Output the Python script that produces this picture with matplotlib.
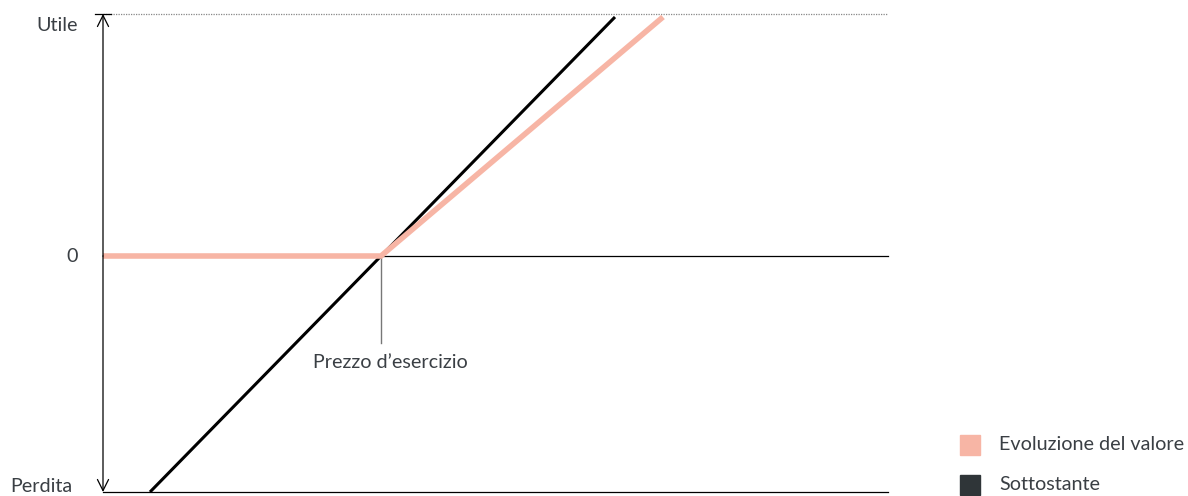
import matplotlib.pyplot as plt
from matplotlib.patches import Rectangle

# values in chart units (x: price axis, y: profit/loss)
x_min, x_max = 0, 785
y_min, y_max = -236, 242
strike = 278

under_x = [47, 512]
under_y = [-236, 239]

option_x = [0, strike, 560]
option_y = [0, 0, 239]

y_labels = ["Utile", "0", "Perdita"]
legend_labels = ["Evoluzione del valore", "Sottostante"]
legend_colors = ["#f7b5a5", "#2f3538"]
strike_label = "Prezzo d\u2019esercizio"

text_col = "#3a3f44"
fs = 14.2
plt.rcParams['font.family'] = ['Lato', 'DejaVu Sans']

fig = plt.figure(figsize=(11.88, 4.96), dpi=100)
ax = fig.add_axes([103 / 1188, 4 / 496, 785 / 1188, 478 / 496])
ax.set_xlim(x_min, x_max)
ax.set_ylim(y_min, y_max)
ax.axis('off')

# frame lines
ax.plot([x_min, x_max], [y_max, y_max], color="#888888", lw=0.9, ls=(0, (1, 1)), clip_on=False)
ax.plot([x_min, x_max], [0, 0], color="black", lw=0.9, clip_on=False)
ax.plot([x_min, x_max], [y_min, y_min], color="black", lw=0.9, clip_on=False)
ax.annotate("", xy=(0, y_max), xytext=(0, 0),
            arrowprops=dict(arrowstyle="->", color="black", lw=0.9, mutation_scale=20,
                            shrinkA=0, shrinkB=0), annotation_clip=False)
ax.annotate("", xy=(0, y_min), xytext=(0, 0),
            arrowprops=dict(arrowstyle="->", color="black", lw=0.9, mutation_scale=20,
                            shrinkA=0, shrinkB=0), annotation_clip=False)
ax.plot([-8, 8], [y_max, y_max], color="black", lw=0.9, clip_on=False)

# strike marker
ax.plot([strike, strike], [0, -87], color="#777777", lw=1.0)
ax.text(strike + 9, -107, strike_label, ha="center", va="center", fontsize=fs, color=text_col)

# lines
ax.plot(under_x, under_y, color="black", lw=2.2, solid_capstyle="butt")
ax.plot(option_x, option_y, color=legend_colors[0], lw=4, solid_capstyle="butt",
        solid_joinstyle="miter")

# y labels
ax.text(-25, 231, y_labels[0], ha="right", va="center", fontsize=fs, color=text_col, clip_on=False)
ax.text(-25, 0, y_labels[1], ha="right", va="center", fontsize=fs, color=text_col, clip_on=False)
ax.text(-31, -230, y_labels[2], ha="right", va="center", fontsize=fs, color=text_col, clip_on=False)

# legend
for i, (lab, col) in enumerate(zip(legend_labels, legend_colors)):
    y0 = (496 - 455 - i * 40) / 496
    fig.patches.append(Rectangle((960 / 1188, y0), 20 / 1188, 20 / 496,
                                 transform=fig.transFigure, color=col))
    fig.text(999 / 1188, y0 + 10 / 496, lab, ha="left", va="center",
             fontsize=fs, color=text_col)

fig.savefig("out.png", dpi=100)
